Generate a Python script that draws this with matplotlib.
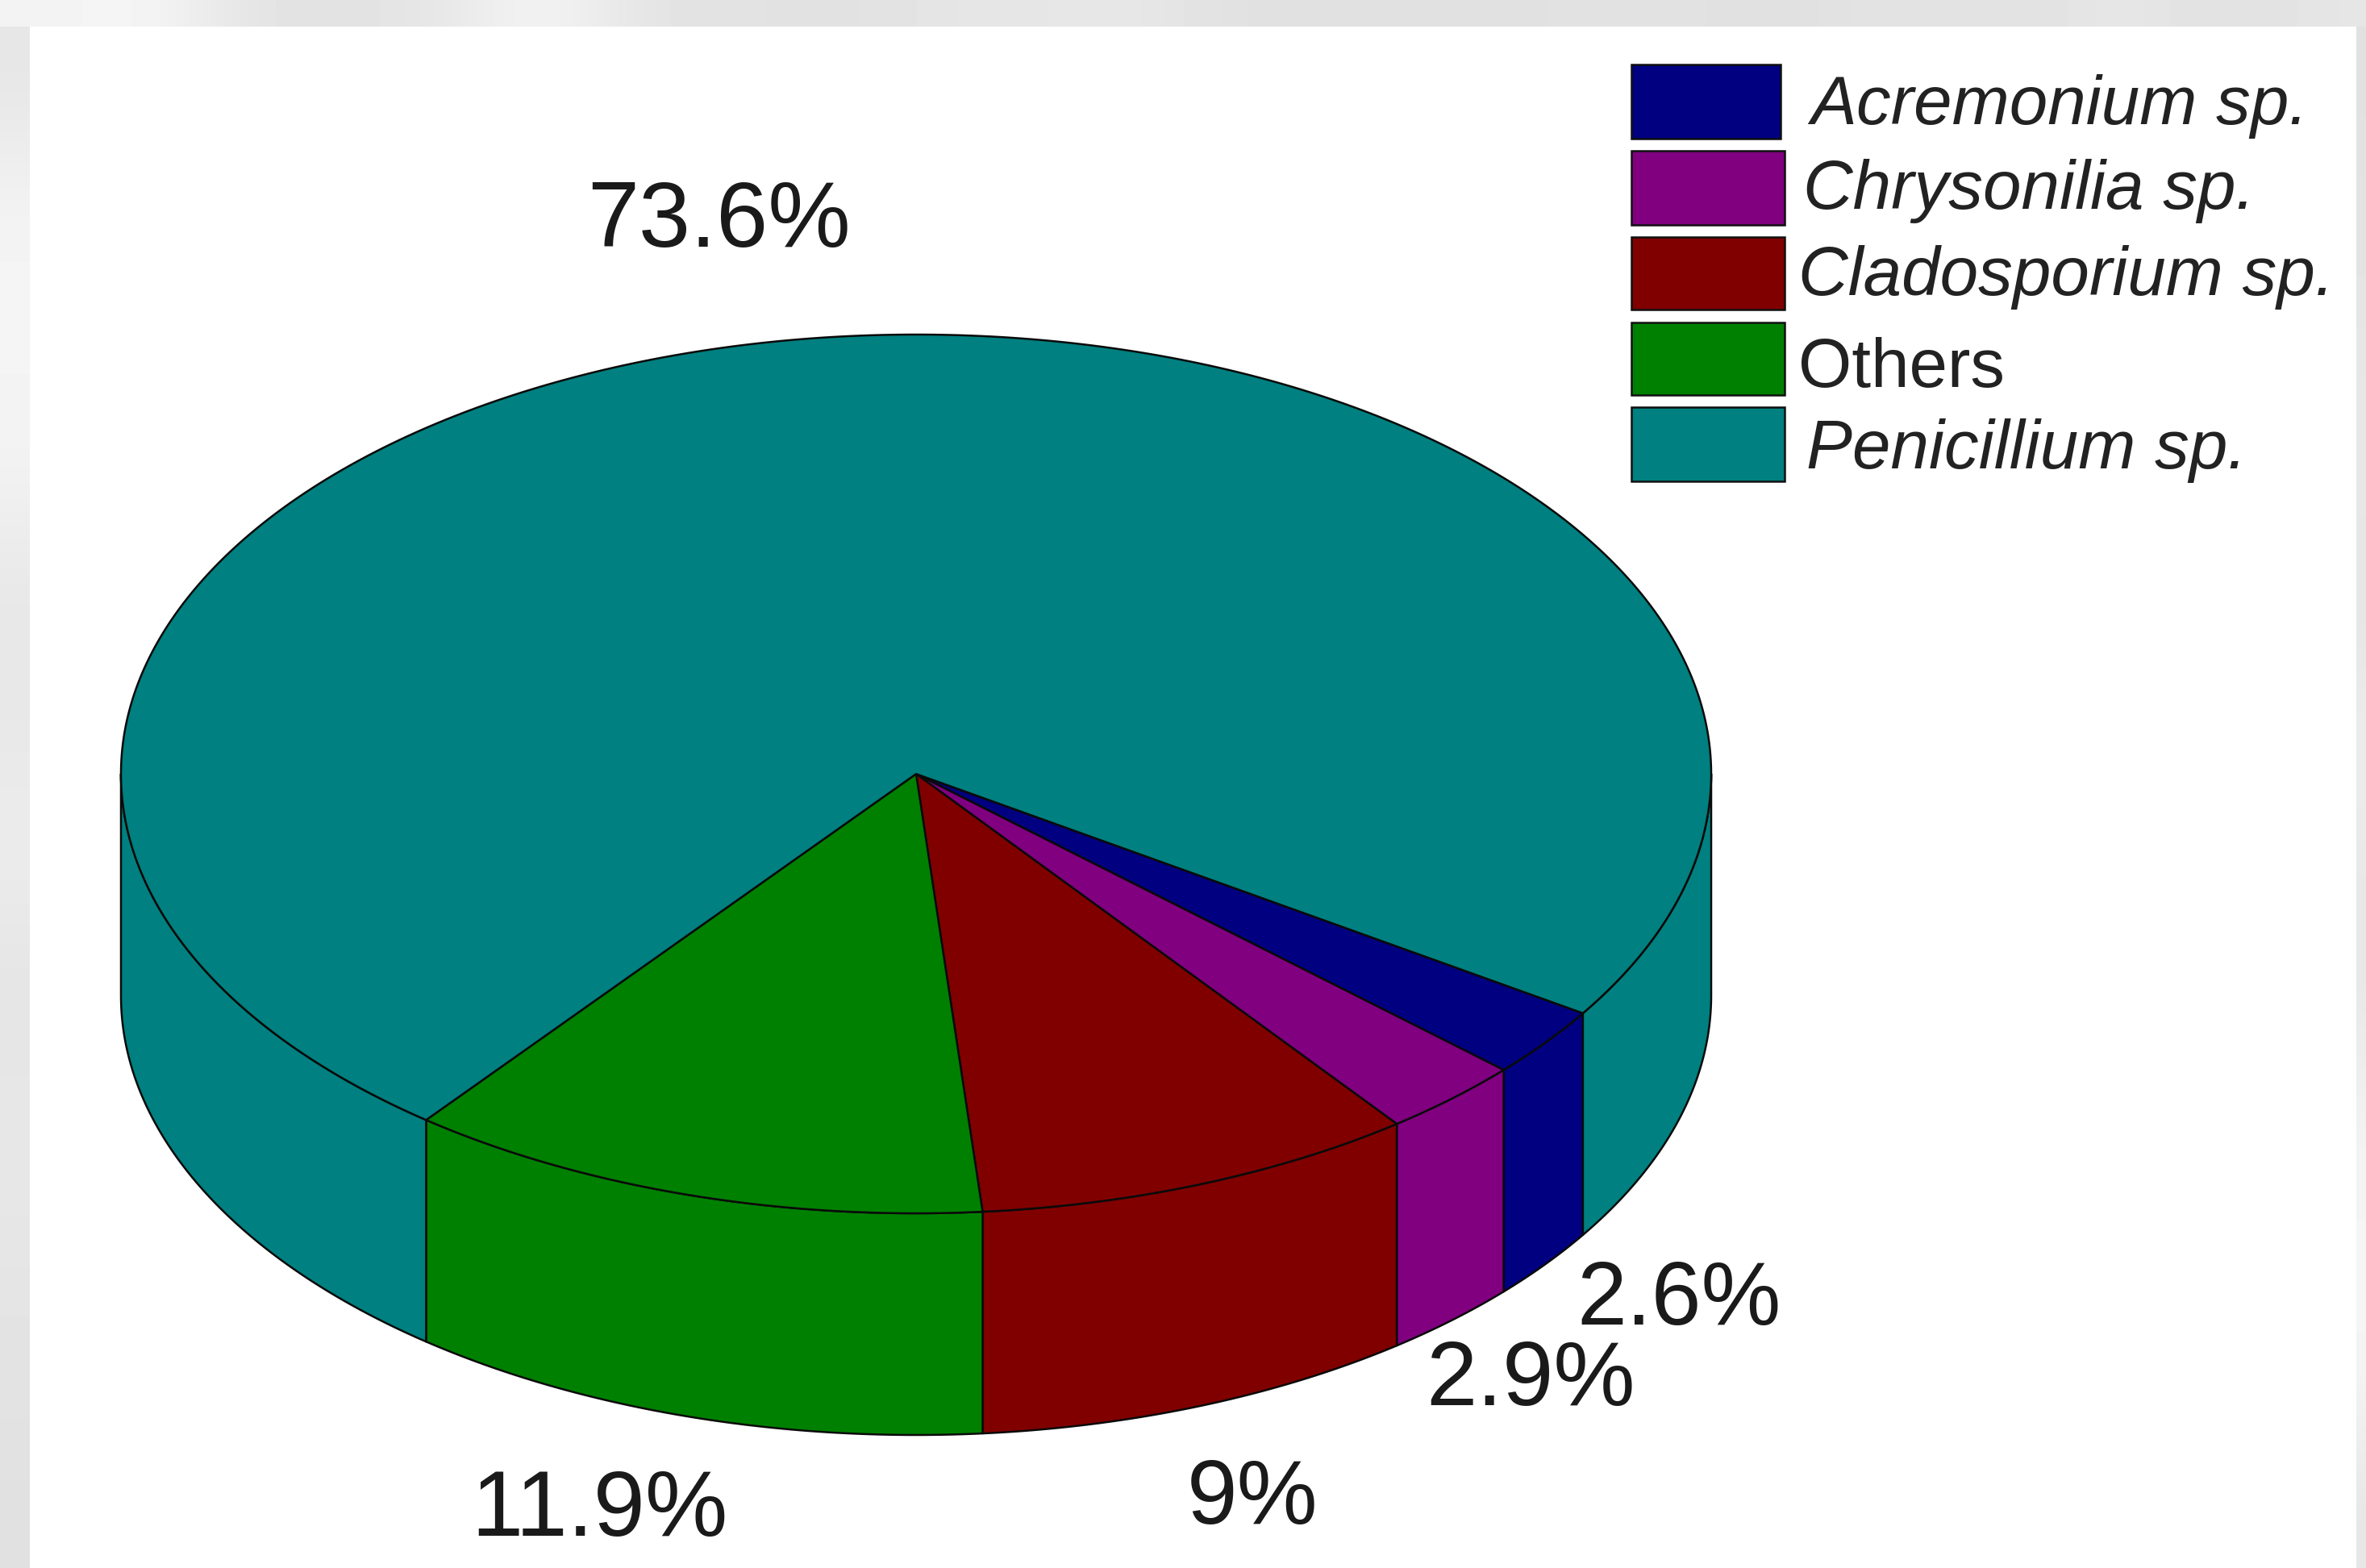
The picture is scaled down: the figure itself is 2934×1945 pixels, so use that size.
import numpy as np
import matplotlib
matplotlib.use("Agg")
import matplotlib.pyplot as plt
from matplotlib.patches import Polygon, Rectangle

plt.rcParams['font.family'] = ['Liberation Sans', 'DejaVu Sans']

# ---- data ----
categories = ['Acremonium sp.', 'Chrysonilia sp.', 'Cladosporium sp.', 'Others', 'Penicillium sp.']
values = [2.6, 2.9, 9.0, 11.9, 73.6]
value_labels = ['2.6%', '2.9%', '9%', '11.9%', '73.6%']
colors = ['#000080', '#800080', '#800000', '#008000', '#008080']
italic = [True, True, True, False, True]

# ---- layout (pixel space of the figure) ----
W, H = 2934, 1945
CX, CY, RX, RY, DEPTH = 1136, 960, 986, 545, 275
START = -33.0
label_xy = [(1955, 1643), (1768, 1743), (1472, 1890), (584, 1905), (728, 306)]
label_size = [80, 82, 81, 83, 83]
swatch_x = [(2023, 2208), (2023, 2213), (2023, 2213), (2023, 2213), (2023, 2213)]
swatch_y = [(80, 172), (187, 279), (294, 384), (400, 490), (505, 597)]
legend_text_xy = [(2245, 154), (2236, 259), (2230, 366), (2230, 480), (2240, 581)]

fig = plt.figure(figsize=(W / 100, H / 100), dpi=100, facecolor='#e8e8e6')
ax = fig.add_axes([0, 0, 1, 1])
ax.set_xlim(0, W)
ax.set_ylim(H, 0)
ax.axis('off')

# soft grey backdrop bands visible around the white panel
top_band = np.array([[.95, .97, .89, .89, .90, .97, .89, .89, .88, .90, .90, .91, .88, .88, .88, .88,
                      .89, .88, .88, .90, .88, .91, .88, .90]])
left_band = np.array([[.90], [.96], [.96], [.95], [.90], [.91], [.93], [.89], [.91], [.90], [.89], [.88]])
ax.imshow(top_band, extent=(0, W, 33, 0), cmap='gray', vmin=0, vmax=1, aspect='auto',
          interpolation='bicubic', zorder=0)
ax.imshow(left_band, extent=(0, 37, H, 33), cmap='gray', vmin=0, vmax=1, aspect='auto',
          interpolation='bicubic', zorder=0)
ax.imshow(left_band[::-1], extent=(2922, W, H, 33), cmap='gray', vmin=0, vmax=1, aspect='auto',
          interpolation='bicubic', zorder=0)
ax.set_xlim(0, W)
ax.set_ylim(H, 0)
ax.add_patch(Rectangle((37, 33), 2922 - 37, H - 33, fc='white', ec='none', zorder=1))


def pt(a):
    r = np.radians(a)
    return CX + RX * np.cos(r), CY - RY * np.sin(r)


def arc(a0, a1):
    a = np.linspace(a0, a1, max(int(abs(a1 - a0) * 2), 2))
    x, y = pt(a)
    return np.column_stack([x, y])


EDGE = '#0a0a0a'
LW = 1.8
sweeps = np.array(values) / sum(values) * 360
ends = START - np.cumsum(sweeps)
starts = ends + sweeps

# side walls, only the part of each slice facing the viewer
for s, e, c in zip(starts, ends, colors):
    for base in (0, -360):
        a0, a1 = min(s, 0 + base), max(e, -180 + base)
        if a0 > a1:
            top = arc(a0, a1)
            low = top[::-1] + [0, DEPTH]
            ax.add_patch(Polygon(np.vstack([top, low]), closed=True, fc=c, ec=EDGE, lw=LW,
                                 joinstyle='round', zorder=2))

# top faces
for s, e, c in zip(starts, ends, colors):
    pts = np.vstack([[CX, CY], arc(s, e)])
    ax.add_patch(Polygon(pts, closed=True, fc=c, ec=EDGE, lw=LW, joinstyle='round', zorder=3))

# percentage labels
for txt, (x, y), fs in zip(value_labels, label_xy, label_size):
    ax.text(x, y, txt, fontsize=fs, color='#1a1a1a', ha='left', va='baseline', zorder=5)

# legend
for name, c, it, (x0, x1), (y0, y1), (tx, ty) in zip(categories, colors, italic, swatch_x, swatch_y,
                                                     legend_text_xy):
    ax.add_patch(Rectangle((x0, y0), x1 - x0, y1 - y0, fc=c, ec='#101010', lw=1.8, zorder=5))
    ax.text(tx, ty, name, fontsize=61.5, style='italic' if it else 'normal', color='#222222',
            ha='left', va='baseline', zorder=5)

fig.savefig('out.png', dpi=100, facecolor=fig.get_facecolor())
